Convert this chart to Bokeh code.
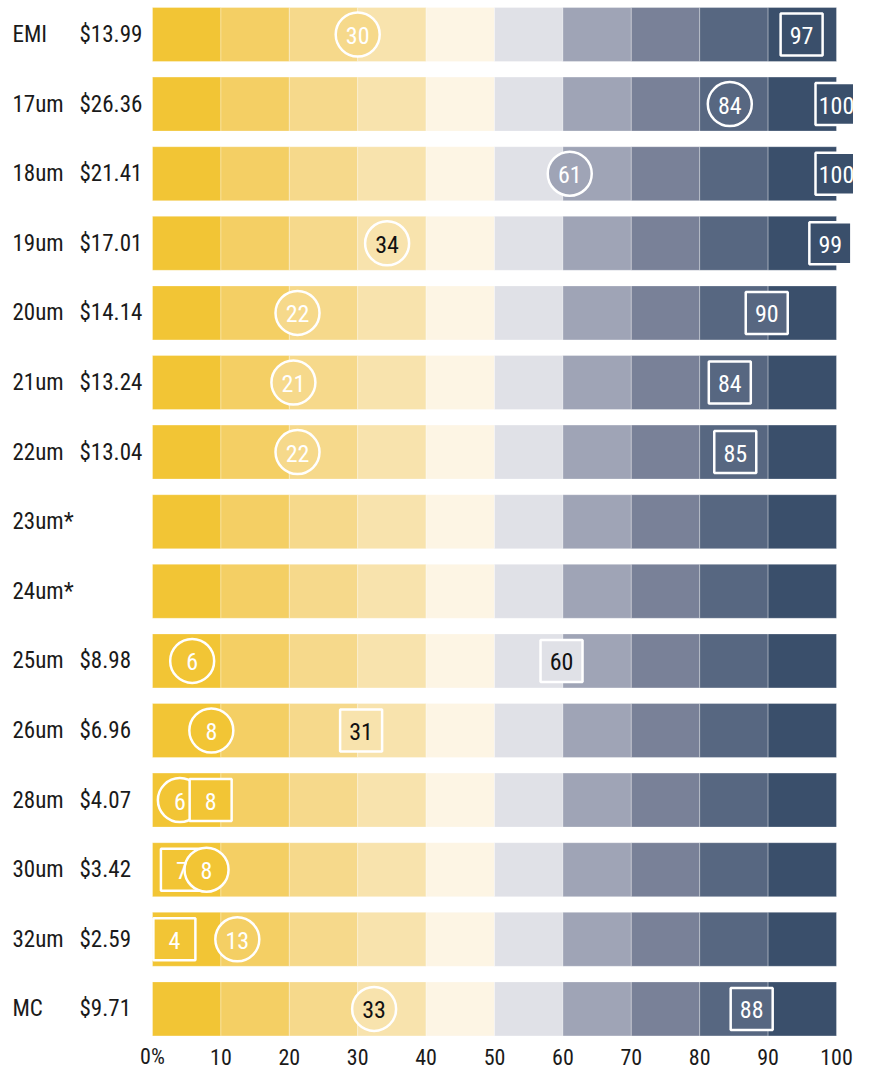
import math
from bokeh.plotting import figure
from bokeh.models import ColumnDataSource, Range1d
from bokeh.core.properties import value
from bokeh.embed import file_html
from bokeh.resources import INLINE

# ---------------- data ----------------
categories = ["EMI", "17um", "18um", "19um", "20um", "21um", "22um", "23um*", "24um*",
              "25um", "26um", "28um", "30um", "32um", "MC"]
prices = ["$13.99", "$26.36", "$21.41", "$17.01", "$14.14", "$13.24", "$13.04", "", "",
          "$8.98", "$6.96", "$4.07", "$3.42", "$2.59", "$9.71"]

# circle marker: label value and position on the 0-100 scale
circle_values = [30, 84, 61, 34, 22, 21, 22, None, None, 6, 8, 6, 8, 13, 33]
circle_pos = [30, 84.4, 61, 34.3, 21.2, 20.6, 21.2, None, None, 5.8, 8.6, 4.0, 7.9, 12.4, 32.4]
# square marker: label value and position on the 0-100 scale
square_values = [97, 100, 100, 99, 90, 84, 85, None, None, 60, 31, 8, 7, 4, 88]
square_pos = [94.9, 100, 100, 99.1, 89.8, 84.4, 85.2, None, None, 59.8, 30.5, 8.5, 4.3, 3.2, 87.6]

band_edges = [0, 10, 20, 30, 40, 50, 60, 70, 80, 90, 100]
band_colors = ["#F2C535", "#F4CF64", "#F6D98B", "#F8E3AD", "#FDF5E4",
               "#E0E1E7", "#9FA4B6", "#798198", "#576781", "#3A4F6B"]
dark_text_bands = [3, 4, 5]

tick_values = [0, 10, 20, 30, 40, 50, 60, 70, 80, 90, 100]
tick_labels = ["0%", "10", "20", "30", "40", "50", "60", "70", "80", "90", "100"]

# ---------------- layout ----------------
W, H = 853, 1072
X0_PX = 152            # pixel position of 0 within the figure
PX_PER_UNIT = 6.84
ROW_PX = 69.6
FIRST_ROW_PX = 34
BAR_H = 54 / ROW_PX

FONT = "Roboto Condensed"
TXT = "#1a1a1a"

n = len(categories)
rows = list(range(n))

x_start = -X0_PX / PX_PER_UNIT
x_end = x_start + W / PX_PER_UNIT
y_top = -FIRST_ROW_PX / ROW_PX
y_bottom = y_top + H / ROW_PX

p = figure(width=W, height=H, output_backend="svg", toolbar_location=None,
           x_range=Range1d(x_start, x_end), y_range=Range1d(y_bottom, y_top),
           min_border=0, min_border_left=0, min_border_right=0,
           min_border_top=0, min_border_bottom=0)
p.xaxis.visible = False
p.yaxis.visible = False
p.grid.visible = False
p.outline_line_color = None
p.background_fill_color = "white"
p.border_fill_color = "white"

# bands
bx_l, bx_r, by, bc = [], [], [], []
for r in rows:
    for k in range(len(band_colors)):
        bx_l.append(band_edges[k])
        bx_r.append(band_edges[k + 1])
        by.append(r)
        bc.append(band_colors[k])
band_src = ColumnDataSource(dict(left=bx_l, right=bx_r, y=by, color=bc))
p.hbar(y="y", left="left", right="right", height=BAR_H, fill_color="color",
       line_color="white", line_alpha=0.3, line_width=1, source=band_src)


def band_of(v):
    return min(len(band_colors) - 1, max(0, math.ceil(v / 10) - 1))


# markers (drawn left to right within a row so the right-hand one sits on top)
mk = []
for r in rows:
    items = []
    if circle_values[r] is not None:
        items.append((circle_pos[r], circle_values[r], "circle", 44))
    if square_values[r] is not None:
        items.append((square_pos[r], square_values[r], "square", 42))
    items.sort(key=lambda t: t[0])
    for pos, val, m, s in items:
        b = band_of(val)
        mk.append(dict(x=pos, y=r, label=str(val), marker=m, size=s,
                       fill=band_colors[b],
                       tc="#111111" if b in dark_text_bands else "white"))
mk_src = ColumnDataSource({k: [d[k] for d in mk] for k in mk[0]})
p.scatter(x="x", y="y", marker="marker", size="size", fill_color="fill",
          line_color="white", line_width=2.5, source=mk_src)
p.text(x="x", y="y", text="label", text_color="tc", text_align="center",
       text_baseline="middle", text_font=value(FONT), text_font_size="24px",
       y_offset=1, source=mk_src)

# row labels
lab_src = ColumnDataSource(dict(x=[0] * n, y=rows, cat=categories, price=prices))
p.text(x="x", y="y", text="cat", x_offset=-140, text_align="left",
       text_baseline="middle", text_font=value(FONT), text_font_size="23px",
       text_color=TXT, source=lab_src)
p.text(x="x", y="y", text="price", x_offset=-73, text_align="left",
       text_baseline="middle", text_font=value(FONT), text_font_size="23px",
       text_color=TXT, source=lab_src)

# tick labels along the bottom
tick_src = ColumnDataSource(dict(x=tick_values, y=[n - 1] * len(tick_values), t=tick_labels))
p.text(x="x", y="y", text="t", y_offset=48, text_align="center",
       text_baseline="middle", text_font=value(FONT), text_font_size="22px",
       text_color=TXT, source=tick_src)

open("out.html", "w").write(file_html(p, INLINE))
